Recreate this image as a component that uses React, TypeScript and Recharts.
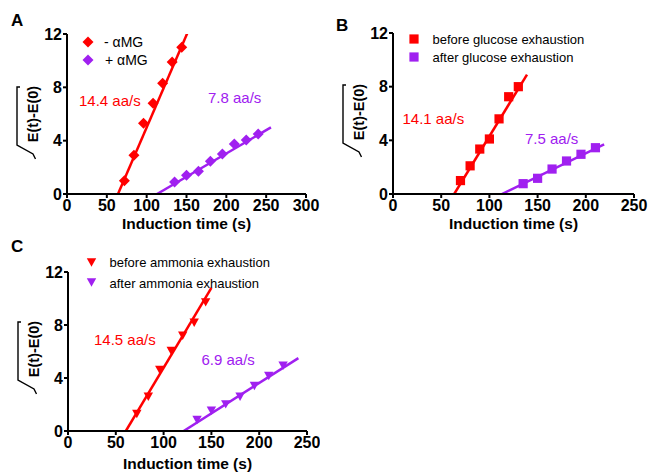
import React from 'react';
import { ComposedChart, Scatter, Line, XAxis, YAxis } from 'recharts';

const RED = '#ff0000';
const PURPLE = '#a020f0';
const FONT = '"Liberation Sans", Arial, Helvetica, sans-serif';

// ---------- Panel A ----------
const aMinusTimes = [72, 84, 96, 108, 120, 132, 144];
const aMinusValues = [1.0, 2.9, 5.3, 6.8, 8.3, 9.9, 11.0];
const aPlusTimes = [135, 150, 165, 180, 195, 210, 225, 240];
const aPlusValues = [0.9, 1.4, 1.7, 2.45, 3.0, 3.75, 4.05, 4.5];
const aMinusFitX = [64, 152];
const aMinusFitY = [0, 12.2];
const aPlusFitX = [113, 256];
const aPlusFitY = [0, 5.0];
const aXTicks = [0, 50, 100, 150, 200, 250, 300];

// ---------- Panel B ----------
const bBeforeTimes = [70, 80, 90, 100, 110, 120, 130];
const bBeforeValues = [1.0, 2.1, 3.35, 4.1, 5.6, 7.25, 8.0];
const bAfterTimes = [135, 150, 165, 180, 195, 210];
const bAfterValues = [0.77, 1.17, 1.86, 2.46, 2.96, 3.45];
const bBeforeFitX = [63.5, 139];
const bBeforeFitY = [0, 8.9];
const bAfterFitX = [113, 219];
const bAfterFitY = [0, 3.7];
const bXTicks = [0, 50, 100, 150, 200, 250];

// ---------- Panel C ----------
const cBeforeTimes = [72, 84, 96, 108, 120, 132, 144];
const cBeforeValues = [1.28, 2.59, 4.6, 6.04, 7.19, 8.17, 9.71];
const cAfterTimes = [135, 150, 165, 180, 195, 210, 225];
const cAfterValues = [0.83, 1.53, 2.01, 2.59, 3.4, 4.15, 4.93];
const cBeforeFitX = [60.5, 150];
const cBeforeFitY = [0, 10.8];
const cAfterFitX = [121, 241];
const cAfterFitY = [0, 5.5];
const cXTicks = [0, 50, 100, 150, 200, 250];

const yTicks = [0, 4, 8, 12];

const zip = (xs: number[], ys: number[]) => xs.map((x, i) => ({ x, y: ys[i] }));

const Diamond = (p: any) => {
  const { cx, cy, fill } = p;
  const r = 5.5;
  return <polygon points={`${cx},${cy - r} ${cx + r},${cy} ${cx},${cy + r} ${cx - r},${cy}`} fill={fill} />;
};
const Square = (p: any) => {
  const { cx, cy, fill } = p;
  const h = 4.6;
  return <rect x={cx - h} y={cy - h} width={2 * h} height={2 * h} fill={fill} />;
};
const TriDown = (p: any) => {
  const { cx, cy, fill } = p;
  const w = 4.7;
  const h = 4.2;
  return <polygon points={`${cx - w},${cy - h} ${cx + w},${cy - h} ${cx},${cy + h}`} fill={fill} />;
};

type PanelProps = {
  left: number;
  top: number;
  width: number;
  height: number;
  margin: { top: number; right: number; bottom: number; left: number };
  yAxisWidth: number;
  xMax: number;
  xTicks: number[];
  s1: { x: number; y: number }[];
  s2: { x: number; y: number }[];
  f1: { x: number; y: number }[];
  f2: { x: number; y: number }[];
  shape: any;
};

const tickStyle = { fill: '#000', fontSize: 16, fontWeight: 700, fontFamily: FONT };

function Panel(p: PanelProps) {
  return (
    <div style={{ position: 'absolute', left: p.left, top: p.top }}>
      <ComposedChart width={p.width} height={p.height} margin={p.margin}>
        <XAxis
          type="number"
          dataKey="x"
          domain={[0, p.xMax]}
          ticks={p.xTicks}
          interval={0}
          allowDataOverflow
          axisLine={{ stroke: '#000', strokeWidth: 2 }}
          tickLine={{ stroke: '#000', strokeWidth: 2 }}
          tickSize={4}
          tickMargin={2}
          tick={tickStyle}
          height={30}
        />
        <YAxis
          type="number"
          dataKey="y"
          domain={[0, 12]}
          ticks={yTicks}
          interval={0}
          allowDataOverflow
          axisLine={{ stroke: '#000', strokeWidth: 2 }}
          tickLine={{ stroke: '#000', strokeWidth: 2 }}
          tickSize={4}
          tickMargin={1}
          tick={tickStyle}
          width={p.yAxisWidth}
        />
        <Line data={p.f1} dataKey="y" type="linear" stroke={RED} strokeWidth={2.5} dot={false} isAnimationActive={false} />
        <Line data={p.f2} dataKey="y" type="linear" stroke={PURPLE} strokeWidth={2.5} dot={false} isAnimationActive={false} />
        <Scatter data={p.s1} dataKey="y" fill={RED} shape={p.shape} isAnimationActive={false} />
        <Scatter data={p.s2} dataKey="y" fill={PURPLE} shape={p.shape} isAnimationActive={false} />
      </ComposedChart>
    </div>
  );
}

function YLabel({ cx, cy }: { cx: number; cy: number }) {
  const lx = cx - 16;
  return (
    <g>
      <text
        x={cx}
        y={cy}
        transform={`rotate(-90 ${cx} ${cy})`}
        textAnchor="middle"
        dominantBaseline="central"
        fontSize={14.5}
        fontWeight={700}
        fontFamily={FONT}
        fill="#000"
      >
        E(t)-E(0)
      </text>
      <polyline
        points={`${lx + 3},${cy - 27} ${lx},${cy - 27} ${lx},${cy + 31} ${cx},${cy + 40} ${cx + 2.5},${cy + 45}`}
        fill="none"
        stroke="#000"
        strokeWidth={1.4}
      />
    </g>
  );
}

const txt = (x: number, y: number, s: string, extra: any = {}) => (
  <text x={x} y={y} fontFamily={FONT} {...extra}>
    {s}
  </text>
);

export default function App() {
  return (
    <div style={{ position: 'absolute', left: 0, top: 0, width: 648, height: 473, background: '#fff', overflow: 'hidden' }}>
      <Panel
        left={0}
        top={0}
        width={320}
        height={240}
        margin={{ top: 34, right: 14, bottom: 16, left: 0 }}
        yAxisWidth={67}
        xMax={300}
        xTicks={aXTicks}
        s1={zip(aMinusTimes, aMinusValues)}
        s2={zip(aPlusTimes, aPlusValues)}
        f1={zip(aMinusFitX, aMinusFitY)}
        f2={zip(aPlusFitX, aPlusFitY)}
        shape={Diamond}
      />
      <Panel
        left={330}
        top={0}
        width={318}
        height={240}
        margin={{ top: 33, right: 14, bottom: 16, left: 0 }}
        yAxisWidth={63}
        xMax={250}
        xTicks={bXTicks}
        s1={zip(bBeforeTimes, bBeforeValues)}
        s2={zip(bAfterTimes, bAfterValues)}
        f1={zip(bBeforeFitX, bBeforeFitY)}
        f2={zip(bAfterFitX, bAfterFitY)}
        shape={Square}
      />
      <Panel
        left={0}
        top={240}
        width={320}
        height={233}
        margin={{ top: 32, right: 13, bottom: 12, left: 0 }}
        yAxisWidth={68}
        xMax={250}
        xTicks={cXTicks}
        s1={zip(cBeforeTimes, cBeforeValues)}
        s2={zip(cAfterTimes, cAfterValues)}
        f1={zip(cBeforeFitX, cBeforeFitY)}
        f2={zip(cAfterFitX, cAfterFitY)}
        shape={TriDown}
      />
      <svg width={648} height={473} style={{ position: 'absolute', left: 0, top: 0, pointerEvents: 'none' }}>
        {/* Panel letters */}
        {txt(11, 26, 'A', { fontSize: 17, fontWeight: 700 })}
        {txt(336, 31, 'B', { fontSize: 17, fontWeight: 700 })}
        {txt(11, 252, 'C', { fontSize: 17, fontWeight: 700 })}

        {/* Axis titles */}
        {txt(186.5, 229, 'Induction time (s)', { fontSize: 15.5, fontWeight: 700, textAnchor: 'middle' })}
        {txt(513.5, 229, 'Induction time (s)', { fontSize: 15.5, fontWeight: 700, textAnchor: 'middle' })}
        {txt(187.5, 469, 'Induction time (s)', { fontSize: 15.5, fontWeight: 700, textAnchor: 'middle' })}
        <YLabel cx={33} cy={114} />
        <YLabel cx={359} cy={112} />
        <YLabel cx={34} cy={349} />

        {/* Legend A */}
        <Diamond cx={88} cy={42} fill={RED} />
        <Diamond cx={88} cy={60} fill={PURPLE} />
        {txt(104, 47, '- αMG', { fontSize: 14 })}
        {txt(105, 65, '+ αMG', { fontSize: 14 })}
        {/* Legend B */}
        <Square cx={414} cy={39} fill={RED} />
        <Square cx={414} cy={57} fill={PURPLE} />
        {txt(432.5, 43.5, 'before glucose exhaustion', { fontSize: 13 })}
        {txt(432.5, 62, 'after glucose exhaustion', { fontSize: 13 })}
        {/* Legend C */}
        <TriDown cx={91.5} cy={262.5} fill={RED} />
        <TriDown cx={91.5} cy={282.5} fill={PURPLE} />
        {txt(109.5, 267, 'before ammonia exhaustion', { fontSize: 13 })}
        {txt(109.5, 287.5, 'after ammonia exhaustion', { fontSize: 13 })}

        {/* Rate annotations */}
        {txt(79, 106, '14.4 aa/s', { fontSize: 15, fill: RED })}
        {txt(208, 103, '7.8 aa/s', { fontSize: 15, fill: PURPLE })}
        {txt(402.5, 124, '14.1 aa/s', { fontSize: 15, fill: RED })}
        {txt(525, 144, '7.5 aa/s', { fontSize: 15, fill: PURPLE })}
        {txt(94, 345, '14.5 aa/s', { fontSize: 15, fill: RED })}
        {txt(201.5, 365, '6.9 aa/s', { fontSize: 15, fill: PURPLE })}
      </svg>
    </div>
  );
}
